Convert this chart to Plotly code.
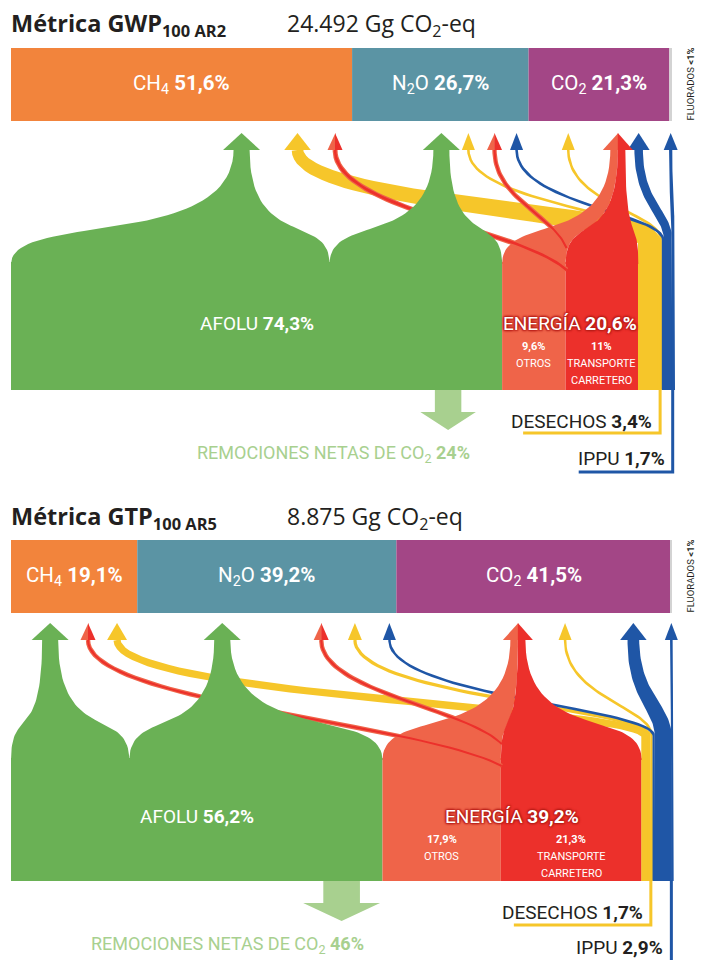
import numpy as np
import plotly.graph_objects as go

# %% datos (% del total de cada métrica)
gas_names = ['CH<sub>4</sub>', 'N<sub>2</sub>O', 'CO<sub>2</sub>', 'FLUORADOS']

# Métrica GWP 100 AR2
gwp_total = '24.492'
gwp_gas = [51.6, 26.7, 21.3, 0.4]          # CH4, N2O, CO2, fluorados
gwp_sectors = [74.3, 20.6, 3.4, 1.7]       # AFOLU, ENERGÍA, DESECHOS, IPPU
gwp_energia = [9.6, 11.0]                  # otros, transporte carretero
gwp_removals = 24
# sector -> gas (CH4, N2O, CO2, fluorados)
gwp_afolu = [48.2, 26.1, 0.0, 0.0]
gwp_otros = [0.4, 0.2, 9.0, 0.0]
gwp_transporte = [0.0, 0.0, 11.0, 0.0]
gwp_desechos = [3.0, 0.3, 0.1, 0.0]
gwp_ippu = [0.0, 0.1, 1.2, 0.4]

# Métrica GTP 100 AR5
gtp_total = '8.875'
gtp_gas = [19.1, 39.2, 41.5, 0.2]
gtp_sectors = [56.2, 39.2, 1.7, 2.9]
gtp_energia = [17.9, 21.3]
gtp_removals = 46
gtp_afolu = [17.9, 38.3, 0.0, 0.0]
gtp_otros = [0.2, 0.3, 17.4, 0.0]
gtp_transporte = [0.0, 0.0, 21.3, 0.0]
gtp_desechos = [1.0, 0.4, 0.3, 0.0]
gtp_ippu = [0.0, 0.2, 2.5, 0.2]

# %% estilo
GAS_COLORS = ['#F2843C', '#5B94A4', '#A34686', '#D3D3D3']
AFOLU_C = '#6AB155'
OTROS_C = '#EF6449'
TRANS_C = '#EC302B'
DES_C = '#F6C62A'
IPPU_C = '#1F56A6'
REM_C = '#A8D08F'
INK = '#231F20'
COND = 'Roboto'
HEAD_FONT = 'Open Sans'
GLOW = ('1px 1px 2px #B81D18, -1px -1px 2px #B81D18, '
        '1px -1px 2px #B81D18, -1px 1px 2px #B81D18')

PX = 6.61      # px por punto porcentual
X0 = 11.0      # borde izquierdo en px
HEAD_H = 17
NECK = 16
NECK_E = 15
MIN_W = 2.0

fig = go.Figure()


def to_pct(xpx):
    return (np.asarray(xpx, dtype=float) - X0) / PX


def to_px(pct):
    return X0 + np.asarray(pct, dtype=float) * PX


def fmt(v):
    return f"{v:g}".replace('.', ',')


def bez(p0, p1, p2, p3, n=48):
    t = np.linspace(0, 1, n)[:, None]
    p0, p1, p2, p3 = map(np.asarray, (p0, p1, p2, p3))
    pts = (1 - t) ** 3 * p0 + 3 * (1 - t) ** 2 * t * p1 + 3 * (1 - t) * t ** 2 * p2 + t ** 3 * p3
    return pts[:, 0], pts[:, 1]


def poly(xs, ys, color):
    fig.add_trace(go.Scatter(x=to_pct(xs), y=np.asarray(ys, dtype=float), mode='lines', fill='toself',
                             fillcolor=color, line=dict(width=0, color=color), hoverinfo='skip'))


def ribbon(xs, ys, ws, color):
    xs, ys, ws = (np.asarray(a, dtype=float) for a in (xs, ys, ws))
    tx, ty = np.gradient(xs), np.gradient(ys)
    n = np.hypot(tx, ty)
    n[n == 0] = 1
    nx, ny = -ty / n, tx / n
    poly(np.r_[xs + nx * ws / 2, (xs - nx * ws / 2)[::-1]],
         np.r_[ys + ny * ws / 2, (ys - ny * ws / 2)[::-1]], color)


def head(xc, tip, base, hw, color, side=None):
    if side == 'L':
        xs, ys = [xc - hw / 2, xc + 0.4, xc + 0.4], [base, base, tip]
    elif side == 'R':
        xs, ys = [xc, xc + hw / 2, xc], [base, base, tip]
    else:
        xs, ys = [xc - hw / 2, xc + hw / 2, xc], [base, base, tip]
    poly(xs, ys, color)


def tent(s0, s1, n0, n1, yb, yn, color, a=0.45, b=0.9):
    dy = yb - yn
    lx, ly = bez((s0, yb + 2), (s0, yb - a * dy), (n0, yn + b * dy), (n0, yn - 0.5))
    rx, ry = bez((s1, yb + 2), (s1, yb - a * dy), (n1, yn + b * dy), (n1, yn - 0.5))
    poly(np.r_[lx, rx[::-1]], np.r_[ly, ry[::-1]], color)


def flow_path(x0, y0, ysplit, xt, yt, k0=0.3, k1=0.6):
    vy = np.linspace(y0, ysplit, 6)[:-1]
    vx = np.full_like(vy, x0)
    dy = ysplit - yt
    bx, by = bez((x0, ysplit), (x0, ysplit - k0 * dy), (xt, yt + k1 * dy), (xt, yt))
    return np.r_[vx, bx], np.r_[vy, by], len(vx)


def label(x_px, y, text, size, color=INK, family=COND, **kw):
    fkw = kw.pop('font_kw', {})
    fig.add_annotation(x=to_pct(x_px), y=y, text=text, showarrow=False,
                       font=dict(family=family, size=size, color=color, **fkw), **kw)


def draw_panel(p):
    gas, fl = p['gas'], p['flows']
    gcum = np.r_[0, np.cumsum(gas)]
    tip = p['tip']
    base = tip + HEAD_H
    bt, bb = p['block_top'], p['block_bot']
    split_y = bt - 22
    afolu, energia, desechos, ippu = p['sectors']
    otros, transp = p['energia']

    def ax(g, key):
        return float(to_px(gcum[g] + p['slots'][(g, key)] * gas[g]))

    # títulos
    label(9, p['title_y'], f"<b>Métrica {p['metric']}<sub>{p['sub']}</sub></b>", 23.5,
          family=HEAD_FONT, xanchor='left')
    label(285, p['title_y'], f"{p['total']} Gg CO<sub>2</sub>-eq", 23, family=HEAD_FONT, xanchor='left')

    # barra de gases
    yc = (p['bar_top'] + p['bar_bot']) / 2
    for i, v in enumerate(gas):
        fig.add_trace(go.Bar(orientation='h', y=[yc], x=[v], base=[gcum[i]],
                             width=p['bar_bot'] - p['bar_top'],
                             marker=dict(color=GAS_COLORS[i], line=dict(width=0)), hoverinfo='skip'))
        if i < 3:
            label(float(to_px(gcum[i] + v / 2)), yc, f"{gas_names[i]} <b>{fmt(v)}%</b>", 20.5,
                  color='white')
    label(690, yc, 'FLUORADOS <b>&lt;1%</b>', 9.5, textangle=-90)

    # bloques de sectores
    ym = (bt + bb) / 2
    for b0, v, c in [(0, afolu, AFOLU_C), (afolu, otros, OTROS_C), (afolu + otros, transp, TRANS_C)]:
        fig.add_trace(go.Bar(orientation='h', y=[ym], x=[v], base=[b0], width=bb - bt,
                             marker=dict(color=c, line=dict(width=0)), hoverinfo='skip'))

    # columnas de desechos e IPPU
    x = float(to_px(afolu + energia))
    col = {}
    for key, color in [('DESECHOS', DES_C), ('IPPU', IPPU_C)]:
        start = x
        for g, v in enumerate(fl[key]):
            if v <= 0:
                continue
            w = max(MIN_W, v * PX)
            xt = ax(g, key)
            xs, ys, nv = flow_path(x + w / 2, bb, split_y, xt, base)
            wtop = min(w, 11)
            t = np.linspace(0, 1, len(xs) - nv)
            ws = np.r_[np.full(nv, w), w + (wtop - w) * t] + 0.6
            ribbon(xs, ys, ws, color)
            head(xt, tip, base, max(13, 1.5 * wtop + 10), color)
            x += w
        col[key] = (start, x)

    # remociones netas
    rc = float(to_px(p['rem_frac'] * afolu))
    sw = 5.4 * np.sqrt(p['removals'])
    hw = 2.1 * sw
    poly([rc - sw / 2, rc + sw / 2, rc + sw / 2, rc + hw / 2, rc, rc - hw / 2, rc - sw / 2],
         [bb, bb, bb + 22, bb + 22, bb + 40, bb + 22, bb + 22], REM_C)
    label(rc + 24, bb + 64, f"REMOCIONES NETAS DE CO<sub>2</sub> <b>{fmt(p['removals'])}%</b>", 18,
          color=REM_C, xanchor='right')

    # energía
    c = ax(2, 'ENERGIA')
    e0, e1, e2 = (float(to_px(v)) for v in (afolu, afolu + otros, afolu + energia))
    tent(e0, e1, c - NECK_E / 2, c, bt, base, OTROS_C)
    for g, off in [(0, 8), (1, -14)]:
        v = fl['OTROS'][g]
        if v <= 0:
            continue
        w = max(MIN_W, v * PX)
        xt = ax(g, 'OTROS')
        xs0, ys0 = e1 + 1, bt + off
        dy, dx = ys0 - base, xs0 - xt
        bx, by = bez((xs0, ys0), (xs0 - 0.2 * dx, ys0 - 0.35 * dy), (xt, base + 0.5 * dy), (xt, base))
        ribbon(bx, by, np.full(len(bx), w + 2.4), OTROS_C)
        ribbon(bx, by, np.full(len(bx), w), TRANS_C)
        head(xt, tip, base, 15, OTROS_C, 'L')
        head(xt, tip, base, 15, TRANS_C, 'R')
    tent(e1, e2, c, c + NECK_E / 2, bt, base, TRANS_C)
    head(c, tip, base, 30, OTROS_C, 'L')
    head(c, tip, base, 30, TRANS_C, 'R')

    # afolu
    s = 0.0
    for g, v in enumerate(fl['AFOLU']):
        if v <= 0:
            continue
        cg = ax(g, 'AFOLU')
        tent(float(to_px(s)), float(to_px(s + v)), cg - NECK / 2, cg + NECK / 2, bt, base, AFOLU_C)
        head(cg, tip, base, 37, AFOLU_C)
        s += v

    # etiquetas de sectores
    label(float(to_px(afolu / 2)), ym - 3, f"AFOLU <b>{fmt(afolu)}%</b>", 19, color='white')
    label(float(to_px(afolu + energia / 2)), ym - 3, f"ENERGÍA <b>{fmt(energia)}%</b>", 19,
          color='white', font_kw=dict(shadow=GLOW))
    xo, xtr = float(to_px(afolu + otros / 2)), float(to_px(afolu + otros + transp / 2))
    label(xo, ym + 20, f"<b>{fmt(otros)}%</b>", 11, color='white')
    label(xo, ym + 37, 'OTROS', 11, color='white')
    label(xtr, ym + 20, f"<b>{fmt(transp)}%</b>", 11, color='white')
    label(xtr, ym + 37, 'TRANSPORTE', 11, color='white')
    label(xtr, ym + 54, 'CARRETERO', 11, color='white')

    # desechos / IPPU con líneas guía
    for key, color, val, ly, llen, lab_y in [('DESECHOS', DES_C, desechos, p['des_line'], 137, p['des_y']),
                                              ('IPPU', IPPU_C, ippu, p['ippu_line'], 94, p['ippu_y'])]:
        lx = col[key][1] - 2
        fig.add_trace(go.Scatter(x=to_pct([lx, lx, lx - llen]), y=[bb - 1, ly, ly], mode='lines',
                                 line=dict(color=color, width=3), hoverinfo='skip'))
        label(lx - 6, lab_y, f"{key} <b>{fmt(val)}%</b>", 19, xanchor='right')


panels = [
    dict(metric='GWP', sub='100 AR2', total=gwp_total, gas=gwp_gas, sectors=gwp_sectors,
         energia=gwp_energia, removals=gwp_removals,
         flows=dict(AFOLU=gwp_afolu, OTROS=gwp_otros, TRANSPORTE=gwp_transporte,
                    DESECHOS=gwp_desechos, IPPU=gwp_ippu),
         slots={(0, 'AFOLU'): .676, (0, 'DESECHOS'): .84, (0, 'OTROS'): .95,
                (1, 'AFOLU'): .506, (1, 'DESECHOS'): .659, (1, 'OTROS'): .807, (1, 'IPPU'): .932,
                (2, 'DESECHOS'): .282, (2, 'ENERGIA'): .634, (2, 'IPPU'): .782, (3, 'IPPU'): .5},
         title_y=24, bar_top=48, bar_bot=121, tip=133, block_top=262, block_bot=390,
         rem_frac=0.89, des_line=433, des_y=421, ippu_line=472, ippu_y=458),
    dict(metric='GTP', sub='100 AR5', total=gtp_total, gas=gtp_gas, sectors=gtp_sectors,
         energia=gtp_energia, removals=gtp_removals,
         flows=dict(AFOLU=gtp_afolu, OTROS=gtp_otros, TRANSPORTE=gtp_transporte,
                    DESECHOS=gtp_desechos, IPPU=gtp_ippu),
         slots={(0, 'AFOLU'): .31, (0, 'OTROS'): .61, (0, 'DESECHOS'): .84,
                (1, 'AFOLU'): .328, (1, 'OTROS'): .71, (1, 'DESECHOS'): .84, (1, 'IPPU'): .973,
                (2, 'ENERGIA'): .443, (2, 'DESECHOS'): .615, (2, 'IPPU'): .864, (3, 'IPPU'): .5},
         title_y=517, bar_top=540, bar_bot=613, tip=623, block_top=758, block_bot=881,
         rem_frac=0.89, des_line=925, des_y=912, ippu_line=975, ippu_y=947),
]

for p in panels:
    draw_panel(p)

fig.update_layout(
    width=709, height=960,
    margin=dict(l=0, r=0, t=0, b=0),
    paper_bgcolor='white', plot_bgcolor='white',
    showlegend=False, barmode='overlay',
    xaxis=dict(range=[float(to_pct(0)), float(to_pct(709))], visible=False, fixedrange=True),
    yaxis=dict(range=[960, 0], visible=False, fixedrange=True),
)

fig.write_html("out.html", config=dict(displayModeBar=False),
               post_script="document.body.style.margin='0';")
